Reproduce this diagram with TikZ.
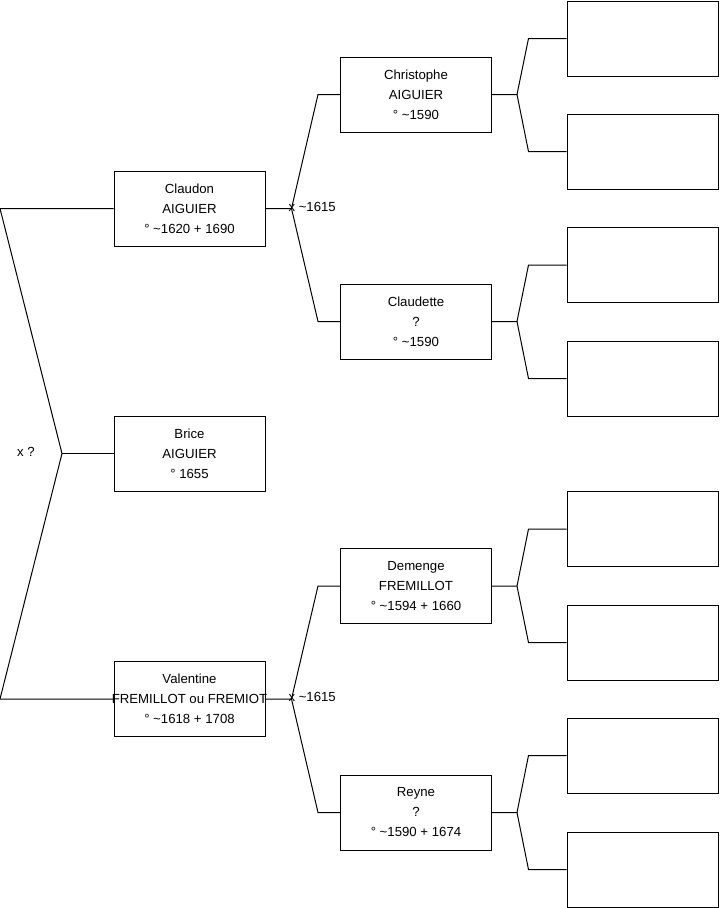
\documentclass[tikz,border=0pt]{standalone}
\usepackage{fontspec}
\setmainfont{Liberation Sans}
\begin{document}
\begin{tikzpicture}[x=0.75pt,y=-0.75pt,line width=0.75pt,
    font=\fontsize{9.9}{15}\selectfont,
    person/.style={draw,minimum width=113.25pt,minimum height=56.25pt,inner sep=0pt,align=center},
    blank/.style={person}]
      \useasboundingbox (0,0) rectangle (719,908);

      % generation 1
      \node[person] (claudon) at (189.5,208.5){Claudon\\AIGUIER\\° \textasciitilde1620 + 1690};
      \node[person] (brice) at (189.5,453.5){Brice\\AIGUIER\\° 1655};
      \node[person] (valentine) at (189.5,699){Valentine\\\makebox[0pt]{FREMILLOT ou FREMIOT}\\° \textasciitilde1618 + 1708};

      % generation 2
      \node[person] (christophe) at (416,94.5){Christophe\\AIGUIER\\° \textasciitilde1590};
      \node[person] (claudette) at (416,321.5){Claudette\\?\\° \textasciitilde1590};
      \node[person] (demenge) at (416,586){Demenge\\FREMILLOT\\° \textasciitilde1594 + 1660};
      \node[person] (reyne) at (416,812.5){Reyne\\?\\° \textasciitilde1590 + 1674};

      % generation 3
      \foreach \i/\y in {1/38.5,2/151.5,3/265,4/378.5,5/529,6/642.5,7/755.5,8/869.5}
        \node[blank] (b\i) at (642.5,\y){};

      % siblings
      \coordinate (fork) at (62,453.5);
      \draw (fork) -- (0,208.5) -- (claudon.west);
      \draw (fork) -- (brice.west);
      \draw (fork) -- (0,699) -- (valentine.west);
      \node (xq) at (26,452){x ?};

      % parents
      \draw (claudon.east) -- ++(26,0) coordinate (fa) -- ([xshift=-16.5pt]christophe.west) -- (christophe.west);
      \draw (fa) -- ([xshift=-16.5pt]claudette.west) -- (claudette.west);
      \node[anchor=west,inner sep=0pt] (ma) at (288,207){x \textasciitilde1615};

      \draw (valentine.east) -- ++(26,0) coordinate (fv) -- ([xshift=-16.5pt]demenge.west) -- (demenge.west);
      \draw (fv) -- ([xshift=-16.5pt]reyne.west) -- (reyne.west);
      \node[anchor=west,inner sep=0pt] (mv) at (288,697){x \textasciitilde1615};

      % grandparents
      \draw (christophe.east) -- ++(25,0) coordinate (f1) -- ([xshift=-28.5pt]b1.west) -- (b1.west);
      \draw (f1) -- ([xshift=-28.5pt]b2.west) -- (b2.west);
      \draw (claudette.east) -- ++(25,0) coordinate (f2) -- ([xshift=-28.5pt]b3.west) -- (b3.west);
      \draw (f2) -- ([xshift=-28.5pt]b4.west) -- (b4.west);
      \draw (demenge.east) -- ++(25,0) coordinate (f3) -- ([xshift=-28.5pt]b5.west) -- (b5.west);
      \draw (f3) -- ([xshift=-28.5pt]b6.west) -- (b6.west);
      \draw (reyne.east) -- ++(25,0) coordinate (f4) -- ([xshift=-28.5pt]b7.west) -- (b7.west);
      \draw (f4) -- ([xshift=-28.5pt]b8.west) -- (b8.west);
    \end{tikzpicture}
\end{document}
